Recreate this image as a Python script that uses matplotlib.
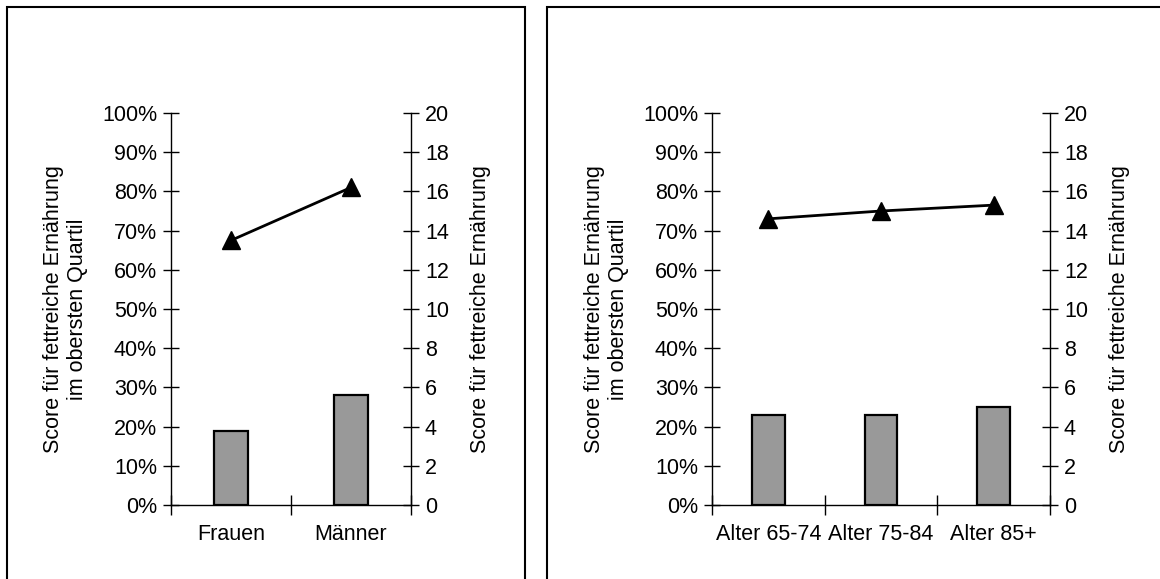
import numpy as np
import matplotlib
matplotlib.use("Agg")
import matplotlib.pyplot as plt
from matplotlib.patches import Rectangle

plt.rcParams['font.family'] = ['Liberation Sans', 'DejaVu Sans']

# data
sex_labels = ['Frauen', 'Männer']
sex_pct = [19, 28]          # % im obersten Quartil (bars)
sex_score = [13.5, 16.2]    # mittlerer Score (line)

age_labels = ['Alter 65-74', 'Alter 75-84', 'Alter 85+']
age_pct = [23, 23, 25]
age_score = [14.6, 15.0, 15.3]

left_label = 'Score für fettreiche Ernährung\nim obersten Quartil'
right_label = 'Score für fettreiche Ernährung'

W, H = 1160, 579
fs = 15.5
fig = plt.figure(figsize=(W / 100, H / 100), dpi=100)

# panel frames
fig.patches.append(Rectangle((7 / W, -0.1), (525 - 7) / W, (H - 7) / H + 0.1,
                             transform=fig.transFigure, fill=False,
                             edgecolor='black', linewidth=1.5))
fig.patches.append(Rectangle((547 / W, -0.1), 0.6, (H - 7) / H + 0.1,
                             transform=fig.transFigure, fill=False,
                             edgecolor='black', linewidth=1.5))


def panel(x0, x1, labels, pct, score):
    ax = fig.add_axes([x0 / W, (H - 505) / H, (x1 - x0) / W, 392 / H])
    n = len(labels)
    pos = np.arange(n) + 0.5
    ax.bar(pos, pct, width=0.29, color='#999999', edgecolor='black',
           linewidth=1.6, zorder=2)
    ax.set_xlim(0, n)
    ax.set_ylim(0, 100)
    ax.set_yticks(np.arange(0, 101, 10))
    ax.set_yticklabels([f'{v}%' for v in range(0, 101, 10)])
    ax.set_xticks(np.arange(n + 1))
    ax.set_xticklabels([])
    ax.set_xticks(pos, minor=True)
    ax.set_xticklabels(labels, minor=True)
    ax.tick_params(axis='x', which='major', direction='inout', length=14, width=1)
    ax.tick_params(axis='x', which='minor', length=0, pad=14, labelsize=fs)
    ax.tick_params(axis='y', direction='inout', length=12, width=1, pad=4,
                   labelsize=fs)
    ax.spines['top'].set_visible(False)
    ax.spines['right'].set_visible(False)
    for s in ['left', 'bottom']:
        ax.spines[s].set_linewidth(1)
    ax.set_ylabel(left_label, fontsize=fs, labelpad=10)

    ax2 = ax.twinx()
    ax2.plot(pos, score, color='black', linewidth=2, marker='^',
             markersize=13, zorder=3)
    ax2.set_ylim(0, 20)
    ax2.set_yticks(np.arange(0, 21, 2))
    ax2.tick_params(axis='y', direction='inout', length=12, width=1, pad=4,
                    labelsize=fs)
    for s in ['top', 'left', 'bottom']:
        ax2.spines[s].set_visible(False)
    ax2.spines['right'].set_linewidth(1)
    ax2.set_ylabel(right_label, fontsize=fs, labelpad=15)


panel(171, 411, sex_labels, sex_pct, sex_score)
panel(712, 1050, age_labels, age_pct, age_score)

fig.savefig('out.png', dpi=100)
